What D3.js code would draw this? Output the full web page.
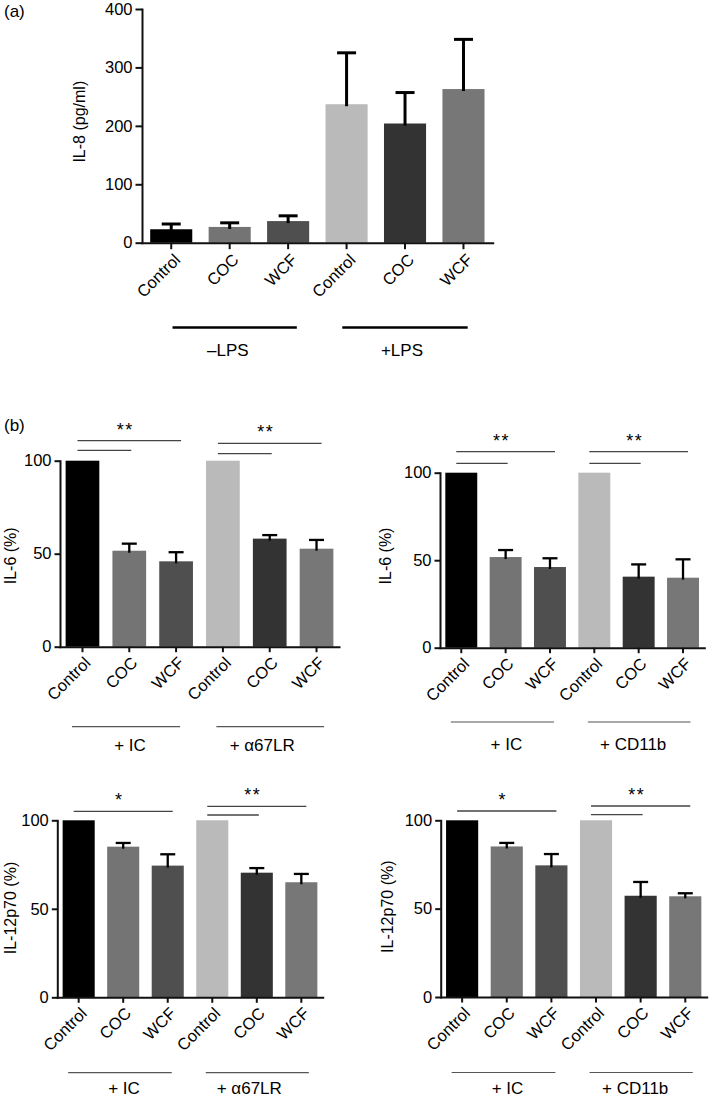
<!DOCTYPE html>
<html><head><meta charset="utf-8">
<script src="https://cdn.jsdelivr.net/npm/d3@7"></script>
<style>body{margin:0;background:#fff}</style>
</head><body><svg id="c" width="709" height="1099"></svg>
<script>
// ---------- data ----------
const categories = ["Control","COC","WCF","Control","COC","WCF"];

const il8Mean = [23, 27, 37, 237, 204, 263];
const il8Sem  = [9, 7, 9, 88, 53, 85];
const il8Ticks = [0, 100, 200, 300, 400];
const lpsGroups = ["\u2013LPS", "+LPS"];

const il6LRMean = [100, 51.6, 45.9, 100, 58.1, 52.7];
const il6LRSem  = [0, 3.8, 4.9, 0, 1.9, 4.7];
const il6CDMean = [100, 51.8, 46.1, 100, 40.6, 40.0];
const il6CDSem  = [0, 4.0, 5.0, 0, 7.0, 10.5];
const il12LRMean = [100, 85.1, 74.4, 100, 70.4, 65.0];
const il12LRSem  = [0, 2.1, 6.4, 0, 2.6, 4.7];
const il12CDMean = [100, 85.2, 74.5, 100, 57.3, 57.0];
const il12CDSem  = [0, 2.0, 6.4, 0, 7.8, 1.7];
const pctTicks = [0, 50, 100];
const lrGroups = ["+ IC", "+ \u03b167LR"];
const cdGroups = ["+ IC", "+ CD11b"];

// significance brackets: from category index to target indices, label
const sigIL6  = [{from:0, to:[2,1], label:"**"}, {from:3, to:[5,4], label:"**"}];
const sigIL12 = [{from:0, to:[2],   label:"*"},  {from:3, to:[5,4], label:"**"}];
const groupSpans = [[0,2],[3,5]];

// ---------- style ----------
const barColors = ["#000000","#747474","#4f4f4f","#bababa","#333333","#777777"];
const FONT = "'Liberation Sans', Arial, Helvetica, sans-serif";

const svg = d3.select("#c");

function drawPanel(o){
  const g = svg.append("g");
  const x = d3.scaleBand().domain(d3.range(categories.length))
      .range([o.x0, o.x1]).paddingInner(0.28).paddingOuter(o.po);
  const y = d3.scaleLinear().domain([0, o.ymax]).range([o.y0, o.yTop]);
  const cx = i => x(i) + x.bandwidth()/2;

  g.append("g").selectAll("rect").data(o.mean).join("rect")
    .attr("x", (d,i) => x(i)).attr("y", d => y(d))
    .attr("width", x.bandwidth()).attr("height", d => y(0) - y(d))
    .attr("fill", (d,i) => barColors[i]);

  const eb = g.append("g").attr("stroke", "#000").attr("stroke-width", o.ew);
  o.mean.forEach((m,i) => {
    const s = o.sem[i]; if (!s) return;
    eb.append("line").attr("x1", cx(i)).attr("x2", cx(i)).attr("y1", y(m)+2).attr("y2", y(m+s));
    eb.append("line").attr("x1", cx(i)-o.cap/2).attr("x2", cx(i)+o.cap/2).attr("y1", y(m+s)).attr("y2", y(m+s));
  });

  const yg = g.append("g").attr("transform", `translate(${o.x0},0)`)
    .call(d3.axisLeft(y).tickValues(o.ticks).tickSize(o.tk).tickSizeOuter(0).tickPadding(3));
  const xg = g.append("g").attr("transform", `translate(0,${o.y0})`)
    .call(d3.axisBottom(x).tickFormat(i => categories[i]).tickSize(o.tk).tickSizeOuter(0));
  [yg, xg].forEach(a => {
    a.select(".domain").attr("stroke-width", 2).attr("stroke-linecap", "square").attr("stroke", "#111");
    a.selectAll(".tick line").attr("stroke-width", 2).attr("stroke", "#111");
    a.selectAll("text").attr("font-size", o.fs).attr("fill", "#000").attr("font-family", FONT);
  });
  xg.selectAll(".tick text").attr("x", 0).attr("y", 0).attr("dy", "0.35em")
    .attr("text-anchor", "end").attr("transform", `translate(${o.lx},${o.ly}) rotate(-45)`);

  // y label
  g.append("text").attr("transform", `translate(${o.ylx},${o.yly}) rotate(-90)`)
    .attr("text-anchor", "middle").attr("dominant-baseline", "central")
    .attr("font-family", FONT).attr("font-size", 16).text(o.ylabel);

  // group lines + labels
  groupSpans.forEach((sp, k) => {
    const a = cx(sp[0]) + o.gOff[k][0], b = cx(sp[1]) + o.gOff[k][1];
    g.append("line").attr("x1", a).attr("x2", b).attr("y1", o.gy).attr("y2", o.gy)
      .attr("stroke", o.gStroke).attr("stroke-width", o.gw);
    g.append("text").attr("x", (a+b)/2 + o.gLab[k]).attr("y", o.gly).attr("text-anchor", "middle")
      .attr("font-family", FONT).attr("font-size", 17).text(o.groups[k]);
  });

  // significance
  if (o.sig) o.sig.forEach((s, k) => {
    const start = cx(s.from) - 5;
    let longY = null, longEnd = null;
    s.to.forEach((t, j) => {
      const yy = y(o.ymax) - o.sigY[k][j];
      const end = cx(t) + (j === 0 ? 5 : 2);
      if (j === 0) { longY = yy; longEnd = end; }
      g.append("line").attr("x1", start).attr("x2", end).attr("y1", yy).attr("y2", yy)
        .attr("stroke", "#444").attr("stroke-width", 1.3);
    });
    g.append("text").attr("x", (start + longEnd)/2 - 4).attr("y", longY - 5)
      .attr("text-anchor", "middle").attr("font-family", FONT).attr("font-size", 18)
      .attr("letter-spacing", 1.5).text(s.label);
  });
}

// panel (a)
drawPanel({mean: il8Mean, sem: il8Sem, ticks: il8Ticks, ymax: 400,
  x0: 142, x1: 492.7, y0: 242.7, yTop: 9, po: 0.14, tk: 6.5, ew: 3, cap: 19, fs: 16.5,
  lx: 6, ly: 14, ylabel: "IL-8 (pg/ml)", ylx: 79.5, yly: 121.7,
  groups: lpsGroups, gOff: [[1.3, 8.7], [-4.3, 4.2]], gLab: [-6.8, -3], gy: 327.5, gly: 356,
  gStroke: "#000", gw: 2.5});

// panel (b) four subplots
const bCommon = {ticks: pctTicks, ymax: 100, po: 0.12, tk: 5.5, ew: 2.3, cap: 15, fs: 16.5,
  lx: 5, ly: 13, gOff: [[-10.5, 4], [-6.5, 7.5]], gStroke: "#555", gw: 1.2};
drawPanel(Object.assign({}, bCommon, {mean: il6LRMean, sem: il6LRSem,
  x0: 60, x1: 339, y0: 646.7, yTop: 460.7, ylabel: "IL-6 (%)", ylx: 10, yly: 555.8,
  groups: lrGroups, gLab: [4, -8], gy: 726.7, gly: 751,
  sig: sigIL6, sigY: [[20, 10.4], [17.4, 7]]}));
drawPanel(Object.assign({}, bCommon, {mean: il6CDMean, sem: il6CDSem,
  x0: 440, x1: 704.3, y0: 647.7, yTop: 472.7, ylabel: "IL-6 (%)", ylx: 385, yly: 556,
  groups: cdGroups, gLab: [4, -6], gy: 722, gly: 750,
  sig: sigIL6, sigY: [[21, 9.4], [21, 9.4]]}));
drawPanel(Object.assign({}, bCommon, {mean: il12LRMean, sem: il12LRSem,
  x0: 57.3, x1: 322.7, y0: 997.3, yTop: 820.3, ylabel: "IL-12p70 (%)", ylx: 10, yly: 908,
  groups: lrGroups, gLab: [4, -8], gy: 1072.7, gly: 1094,
  sig: sigIL12, sigY: [[9], [14, 5.3]]}));
drawPanel(Object.assign({}, bCommon, {mean: il12CDMean, sem: il12CDSem,
  x0: 440.7, x1: 706.7, y0: 997, yTop: 820.3, ylabel: "IL-12p70 (%)", ylx: 387, yly: 906.7,
  groups: cdGroups, gLab: [4, -6], gy: 1072.5, gly: 1094,
  sig: sigIL12, sigY: [[9.3], [14.3, 5.6]]}));

// panel letters
svg.append("text").attr("x", 4).attr("y", 17).attr("font-family", FONT).attr("font-size", 17).text("(a)");
svg.append("text").attr("x", 4).attr("y", 431).attr("font-family", FONT).attr("font-size", 17).text("(b)");
</script></body></html>
